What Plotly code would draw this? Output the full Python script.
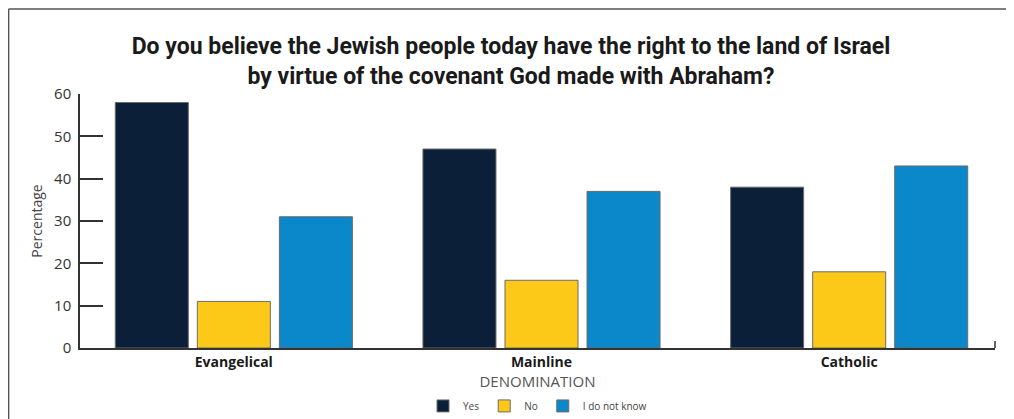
import plotly.graph_objects as go

categories = ["Evangelical", "Mainline", "Catholic"]
yes_vals = [58, 47, 38]
no_vals = [11, 16, 18]
idk_vals = [31, 37, 43]
series_names = ["Yes", "No", "I do not know"]
colors = ["#0c1f38", "#fcc918", "#0a88c9"]
y_ticks = [0, 10, 20, 30, 40, 50, 60]

fig = go.Figure()
for name, vals, col in zip(series_names, [yes_vals, no_vals, idk_vals], colors):
    fig.add_trace(go.Bar(
        x=categories, y=vals, name=name,
        marker=dict(color=col, line=dict(color="#6b6b6b", width=1)),
    ))

# page body has an 8px margin, so figure is sized/offset to compensate
fig.update_layout(
    width=1006, height=411,
    margin=dict(l=72, r=19, t=86, b=71, autoexpand=False),
    paper_bgcolor="white", plot_bgcolor="white",
    barmode="group", bargap=0.2, bargroupgap=0.11,
    title=dict(
        text="Do you believe the Jewish people today have the right to the land of Israel<br>by virtue of the covenant God made with Abraham?",
        x=0.5, xanchor="center", y=0.888, yanchor="middle",
        font=dict(family="Roboto, sans-serif", size=23, color="#1a1a1a", weight="bold"),
    ),
    font=dict(family="Open Sans, Liberation Sans, sans-serif", color="#333333"),
    showlegend=True,
    legend=dict(orientation="h", x=0.5, xanchor="center", y=-0.228, yanchor="middle",
                font=dict(size=10, color="#444444"), itemwidth=30, traceorder="normal",
                tracegroupgap=0),
    xaxis=dict(
        range=[-0.5, 2.474],
        showline=True, linecolor="#333333", linewidth=1.5,
        ticks="", tickfont=dict(size=14, color="#1a1a1a", weight="bold", family="Open Sans, sans-serif"),
        title=dict(text="DENOMINATION", font=dict(size=15, color="#555555", family="Open Sans, sans-serif"), standoff=2),
    ),
    yaxis=dict(
        range=[0, 60], tickvals=y_ticks, showgrid=False, zeroline=False,
        showline=True, linecolor="#333333", linewidth=1.5,
        ticks="inside", ticklen=23, tickcolor="#333333", tickwidth=1.5,
        tickfont=dict(size=15, color="#333333"), ticklabelstandoff=4,
        title=dict(text="Percentage", font=dict(size=14, color="#444444"), standoff=8),
    ),
)

# Frame lines (left and top border)
fig.add_shape(type="line", xref="paper", yref="paper", x0=-0.078, x1=1.03, y0=1.335, y1=1.335,
              line=dict(color="#555555", width=1.5))
fig.add_shape(type="line", xref="paper", yref="paper", x0=-0.078, x1=-0.078, y0=1.335, y1=-0.3,
              line=dict(color="#555555", width=1.5))
# small end tick on x axis
fig.add_shape(type="line", xref="paper", yref="paper", x0=1, x1=1, y0=0, y1=0.028,
              line=dict(color="#333333", width=1.5))

fig.write_html("out.html")
